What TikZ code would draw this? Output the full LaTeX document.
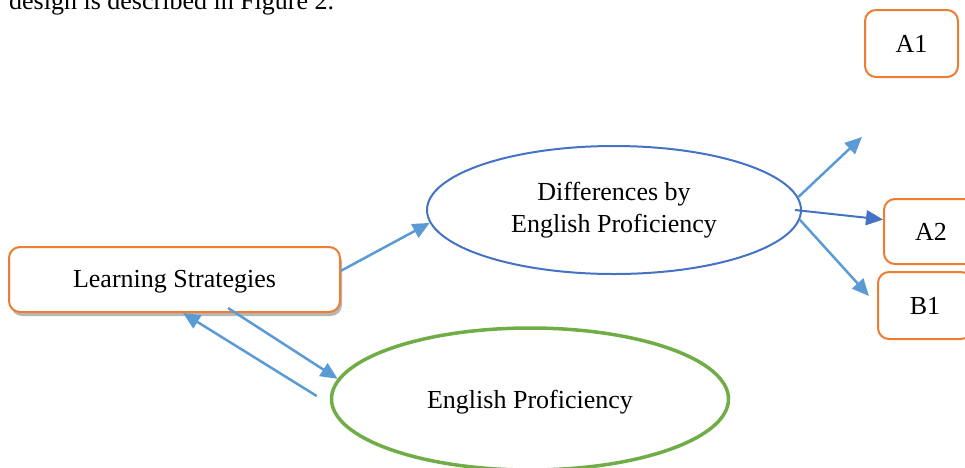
\documentclass[tikz,border=0pt]{standalone}
\usepackage{fontspec}
\setmainfont{Liberation Serif}
\usetikzlibrary{shapes.geometric,arrows.meta,shadows}
\definecolor{orng}{HTML}{ED7D31}
\definecolor{lblue}{HTML}{5B9BD5}
\definecolor{dblue}{HTML}{4472C4}
\definecolor{grn}{HTML}{70AD47}
\begin{document}
\begin{tikzpicture}[x=1pt,y=-1pt,
  every node/.style={font=\fontsize{26}{32}\selectfont, text=black},
  obox/.style={draw=orng, line width=2pt, rounded corners=11pt, fill=white, inner sep=0pt},
  arr/.style={draw=lblue, line width=2.5pt, -{Triangle[length=17pt,width=15pt]}, fill=lblue},
]
\useasboundingbox (0,0) rectangle (965,467);
\clip (0,0) rectangle (965,467);
\node[anchor=base west, inner sep=0pt] (cap) at (9,9) {design is described in Figure 2.};
% boxes
\node[obox, minimum width=331pt, minimum height=65pt, text height=22pt, text depth=5.7pt,
  drop shadow={opacity=0.4, fill=black!70, shadow xshift=2pt, shadow yshift=-4pt}] (ls) at (174.5,279.5) {Learning Strategies};
\node[obox, minimum width=93pt, minimum height=67pt] (a1) at (911.5,43.5) {A1};
\node[obox, minimum width=94pt, minimum height=65pt] (a2) at (931,231.5) {A2};
\node[obox, minimum width=94pt, minimum height=67pt] (b1) at (925,305.5) {B1};
% ellipses
\node[ellipse, draw=dblue, line width=2pt, minimum width=374pt, minimum height=128pt, inner sep=0pt, align=center] (diff) at (614,210) {Differences by\\English Proficiency};
\node[ellipse, draw=grn, line width=3.5pt, minimum width=397pt, minimum height=142pt, inner sep=0pt, text height=24pt, text depth=5.7pt] (eng) at (530,399) {English Proficiency};
% connectors
\coordinate (free) at (862,137);
\coordinate (d3) at (795,210);
\draw[arr] (ls.3) -- (diff.184);
\draw[arr] (diff.4) -- (free);
\draw[arr, draw=dblue, fill=dblue, line width=2pt] (d3) -- (a2.166);
\draw[arr] (diff.-3) -- ([xshift=-8pt,yshift=9.5pt]b1.west);
\draw[arr] ([xshift=53.5pt,yshift=5pt]ls.south) -- (eng.174);
\draw[arr] ([xshift=-13pt,yshift=3pt]eng.west) -- ([xshift=8.5pt]ls.south);
\end{tikzpicture}
\end{document}
